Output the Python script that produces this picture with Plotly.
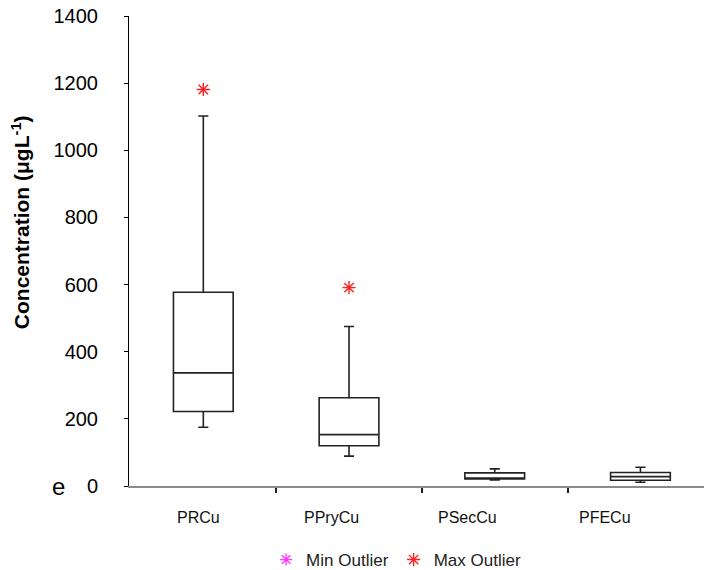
import plotly.graph_objects as go

categories = ["PRCu", "PPryCu", "PSecCu", "PFECu"]
lower_whisker = [175, 89, 18, 11]
q1_vals = [222, 120, 21, 17]
median_vals = [337, 153, 24, 28]
q3_vals = [577, 263, 39, 40]
upper_whisker = [1102, 475, 51, 56]
max_outlier_cat = ["PRCu", "PPryCu"]
max_outlier_vals = [1181, 591]
y_ticks = [0, 200, 400, 600, 800, 1000, 1200, 1400]

FONT = "Arial, Liberation Sans, sans-serif"
xpos = list(range(len(categories)))
cat_index = {c: i for i, c in enumerate(categories)}

fig = go.Figure()
fig.add_trace(go.Box(
    x=xpos, q1=q1_vals, median=median_vals, q3=q3_vals,
    lowerfence=lower_whisker, upperfence=upper_whisker,
    width=0.41, whiskerwidth=0.17,
    line=dict(color="#222222", width=1.6), fillcolor="white",
    showlegend=False, boxpoints=False,
))
fig.add_trace(go.Scatter(
    x=[None], y=[None], mode="markers", name="Min Outlier",
    marker=dict(symbol="asterisk-open", size=10, color="#FF33FF",
                line=dict(color="#FF33FF", width=1.3)),
))
fig.add_trace(go.Scatter(
    x=[cat_index[c] for c in max_outlier_cat], y=max_outlier_vals,
    mode="markers", name="Max Outlier",
    marker=dict(symbol="asterisk-open", size=11, color="#FF2020",
                line=dict(color="#FF2020", width=1.4)),
))

# category labels (placed under each category, as in the original)
label_shift = [-0.03, -0.12, -0.19, -0.24]
for i, c in enumerate(categories):
    fig.add_annotation(x=i + label_shift[i], y=-0.066, xref="x", yref="paper",
                       text=c, showarrow=False, yanchor="middle",
                       font=dict(family=FONT, size=16, color="#111111"))

fig.add_annotation(x=-0.183, y=0.561, xref="paper", yref="paper",
                   text="<b>Concentration (μgL<sup>-1</sup>)</b>", textangle=-90,
                   showarrow=False, xanchor="center", yanchor="middle",
                   font=dict(family=FONT, size=21, color="black"))
fig.add_annotation(x=-0.12, y=0.0, xref="paper", yref="paper", text="e",
                   showarrow=False, xanchor="center", yanchor="middle",
                   font=dict(family=FONT, size=24, color="black"))

fig.update_layout(
    width=712, height=570,
    margin=dict(l=121, r=0, t=8, b=92),
    paper_bgcolor="white", plot_bgcolor="white",
    font=dict(family=FONT, color="black"),
    legend=dict(orientation="h", x=0.232, y=-0.158, xanchor="left", yanchor="middle",
                font=dict(family=FONT, size=17, color="#222222"),
                itemwidth=30, tracegroupgap=0),
    xaxis=dict(range=[-0.51, 3.546], showgrid=False, zeroline=False, automargin=False,
               showline=True, linecolor="#8a8a8a", linewidth=2,
               tickvals=[0.5, 1.5, 2.5], ticktext=["", "", ""],
               ticks="outside", ticklen=5, tickwidth=1.5, tickcolor="#222222"),
    yaxis=dict(range=[0, 1400], tickvals=y_ticks, showgrid=False, zeroline=False,
               automargin=False, ticklabeloverflow="allow",
               showline=True, linecolor="black", linewidth=1,
               ticks="outside", ticklen=4, tickcolor="black",
               ticklabelstandoff=22,
               tickfont=dict(family=FONT, size=20, color="black")),
)

fig.write_html("out.html")
